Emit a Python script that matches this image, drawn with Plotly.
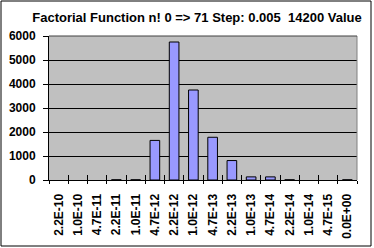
import plotly.graph_objects as go

categories = ["2.2E-10", "1.0E-10", "4.7E-11", "2.2E-11", "1.0E-11", "4.7E-12",
              "2.2E-12", "1.0E-12", "4.7E-13", "2.2E-13", "1.0E-13", "4.7E-14",
              "2.2E-14", "1.0E-14", "4.7E-15", "0.0E+00"]
values = [0, 0, 0, 8, 8, 1650, 5750, 3750, 1780, 810, 130, 130, 8, 0, 0, 8]
y_ticks = [0, 1000, 2000, 3000, 4000, 5000, 6000]
title_text = "Factorial Function n! 0 => 71 Step: 0.005  14200 Value"

W, H = 374, 248
L, R, T, B = 49, 357, 36, 180

fam = "Liberation Sans, Arial, sans-serif"
font = dict(family=fam, size=12, color="black", weight="bold")

line_w = [1 if v > 0 else 0 for v in values]

fig = go.Figure()
fig.add_trace(go.Bar(
    x=categories, y=values,
    marker=dict(color="#9999FF", line=dict(color="black", width=line_w)),
    xaxis="x", yaxis="y",
))
# invisible helper for inside ticks on the category axis
fig.add_trace(go.Bar(x=categories, y=[0]*len(categories), xaxis="x2", yaxis="y",
                     marker=dict(color="rgba(0,0,0,0)", line=dict(width=0)),
                     hoverinfo="skip", showlegend=False))

pw, ph = R - L, B - T
def px(x): return (x - L) / pw
def py(y): return (B - y) / ph

fig.update_layout(
    width=W, height=H,
    margin=dict(l=L, r=W - R, t=T, b=H - B, pad=0, autoexpand=False),
    paper_bgcolor="white", plot_bgcolor="#C0C0C0",
    showlegend=False, bargap=0.5, barmode="overlay",
    font=font,
    title=dict(text=title_text, x=197 / W, xanchor="center",
               y=1 - 17 / H, yanchor="middle",
               font=dict(family=fam, size=13, weight="bold", color="black")),
    xaxis=dict(type="category", tickangle=-90, tickson="boundaries",
               ticks="outside", ticklen=3, tickcolor="black", tickwidth=1,
               showline=True, linecolor="black", linewidth=1, mirror=False,
               showgrid=False, tickfont=font, ticklabelstandoff=8,
               automargin=False,
               tickvals=categories, ticktext=["<b>" + c + "</b>" for c in categories]),
    xaxis2=dict(type="category", overlaying="x", tickson="boundaries",
                ticks="inside", ticklen=5, tickcolor="black", tickwidth=1,
                showticklabels=False, showgrid=False, showline=False,
                side="bottom", matches="x", automargin=False),
    yaxis=dict(range=[0, 6000], tickvals=y_ticks,
               ticktext=["<b>%d</b>" % v for v in y_ticks],
               ticks="outside", ticklen=5, tickcolor="black",
               showline=True, linecolor="black", linewidth=1,
               showgrid=True, gridcolor="black", gridwidth=1,
               zeroline=False, tickfont=font, ticklabelstandoff=5,
               automargin=False),
    shapes=[
        dict(type="rect", xref="paper", yref="paper",
             x0=px(1), x1=px(371), y0=py(246), y1=py(1),
             line=dict(color="black", width=1), layer="below"),
        dict(type="line", xref="paper", yref="paper",
             x0=1, x1=1, y0=0, y1=1, line=dict(color="#808080", width=1)),
        dict(type="line", xref="paper", yref="paper",
             x0=0, x1=1, y0=1, y1=1, line=dict(color="#404040", width=1)),
    ],
)

fig.write_html("out.html")
